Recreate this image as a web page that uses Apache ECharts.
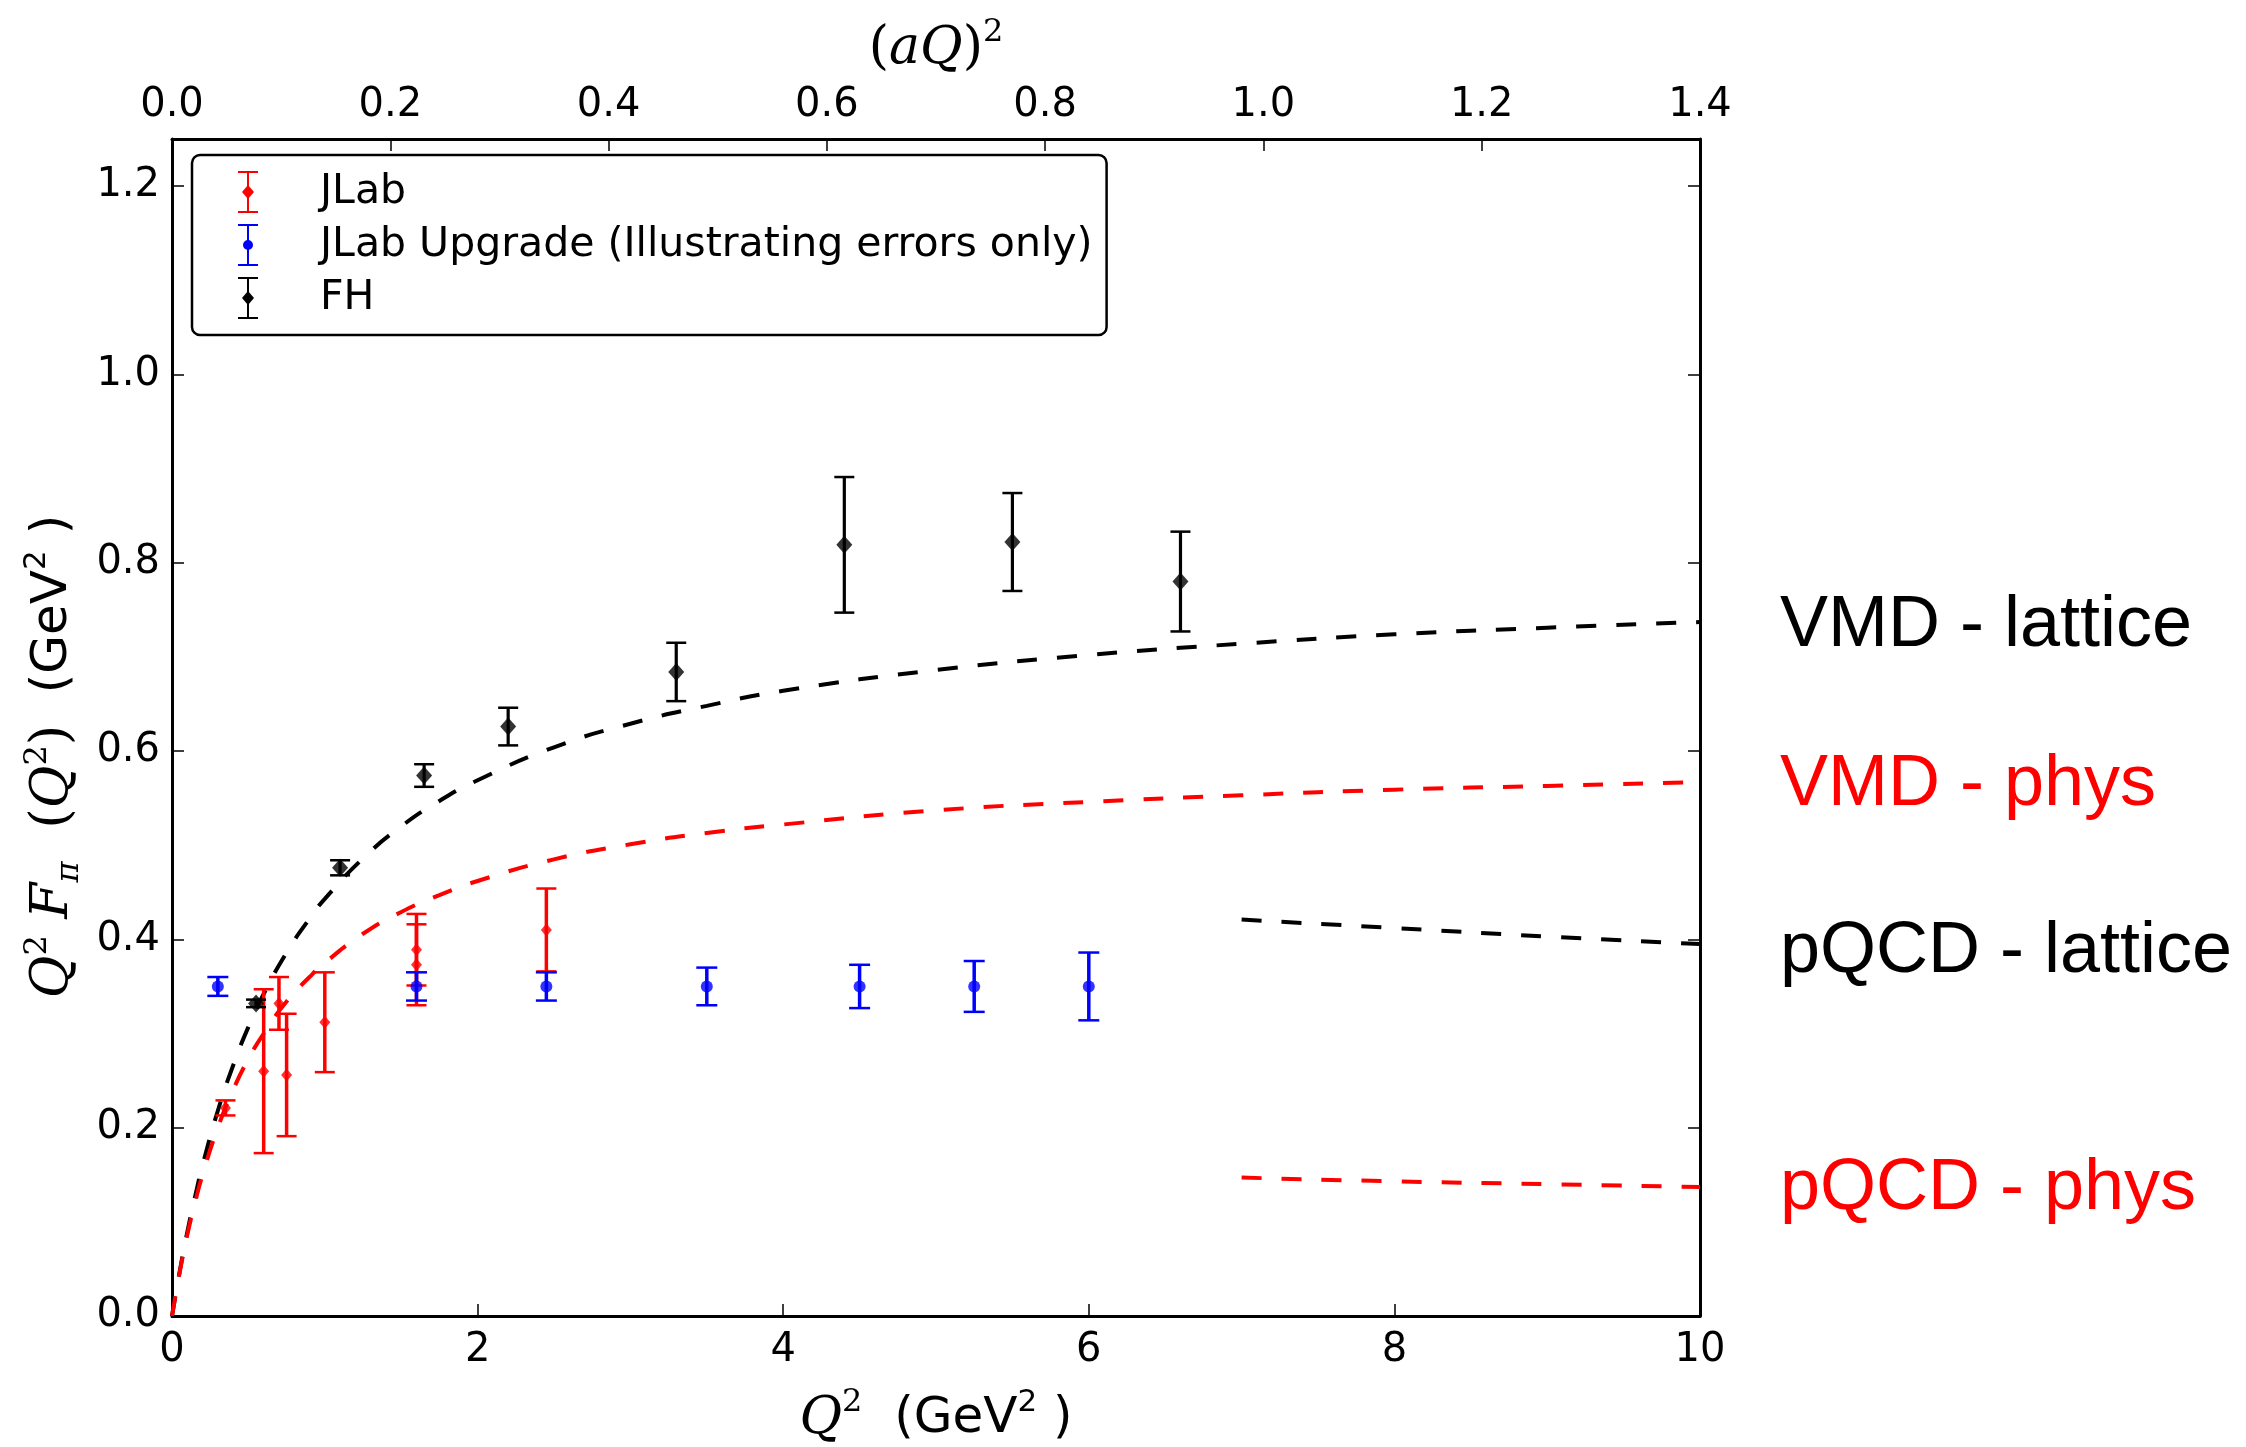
<!DOCTYPE html>
<html>
<head>
<meta charset="utf-8">
<script src="https://cdn.jsdelivr.net/npm/echarts@6/dist/echarts.min.js"></script>
<style>
  html, body { margin: 0; padding: 0; background: #fff; }
  #chart { width: 2246px; height: 1447px; }
</style>
</head>
<body>
<div id="chart"></div>
<script>
// ---------- data ----------
// JLab (red)
const jlabX   = [0.35, 0.60, 0.70, 0.75, 1.00, 1.60, 1.60, 2.45];
const jlabY   = [0.221, 0.260, 0.332, 0.256, 0.312, 0.389, 0.373, 0.410];
const jlabErr = [0.008, 0.087, 0.028, 0.065, 0.053, 0.038, 0.043, 0.044];
// JLab Upgrade (blue)
const upX   = [0.30, 1.60, 2.45, 3.50, 4.50, 5.25, 6.00];
const upY   = [0.350, 0.350, 0.350, 0.350, 0.350, 0.350, 0.350];
const upErr = [0.010, 0.015, 0.015, 0.020, 0.023, 0.027, 0.036];
// FH (black)
const fhX   = [0.55, 1.10, 1.65, 2.20, 3.30, 4.40, 5.50, 6.60];
const fhY   = [0.332, 0.476, 0.574, 0.626, 0.684, 0.819, 0.822, 0.780];
const fhErr = [0.004, 0.008, 0.012, 0.020, 0.031, 0.072, 0.052, 0.053];
// dashed curves
const vmdX     = [0, 0.05, 0.1, 0.15, 0.2, 0.3, 0.4, 0.5, 0.6, 0.75, 0.9, 1.0, 1.25, 1.5, 1.75, 2.0, 2.5, 3.0, 3.5, 4.0, 5.0, 6.0, 7.0, 8.0, 9.0, 10.0];
const vmdLatY  = [0, 0.047, 0.089, 0.126, 0.160, 0.218, 0.266, 0.307, 0.342, 0.386, 0.422, 0.443, 0.486, 0.520, 0.547, 0.569, 0.604, 0.629, 0.648, 0.664, 0.686, 0.702, 0.714, 0.724, 0.731, 0.737];
const vmdPhysY = [0, 0.046, 0.086, 0.120, 0.150, 0.200, 0.240, 0.273, 0.300, 0.334, 0.360, 0.375, 0.406, 0.429, 0.447, 0.462, 0.485, 0.501, 0.513, 0.522, 0.537, 0.546, 0.553, 0.559, 0.563, 0.567];
const pqcdX     = [7, 8, 9, 10];
const pqcdLatY  = [0.421, 0.412, 0.403, 0.395];
const pqcdPhysY = [0.147, 0.143, 0.140, 0.137];
// ticks
const bottomTicks = { min: 0, max: 10, interval: 2 };
const topTicks    = { min: 0, max: 1.4, interval: 0.2 };
const leftTicks   = { min: 0, max: 1.25, interval: 0.2 };
// right-hand annotations (label centre heights in data units of the y axis)
const annLabels = ['VMD - lattice', 'VMD - phys', 'pQCD - lattice', 'pQCD - phys'];
const annColors = ['#000000', '#ff0000', '#000000', '#ff0000'];
const annY      = [0.7325, 0.564, 0.386, 0.135];

// ---------- chart ----------
const chart = echarts.init(document.getElementById('chart'), null, { renderer: 'canvas' });

function pairs(xs, ys) { return xs.map((x, i) => [x, ys[i]]); }
function errData(xs, ys, es) { return xs.map((x, i) => [x, ys[i] - es[i], ys[i] + es[i]]); }

function errRender(color, capW, lw, capLw) {
  return function (params, api) {
    const x = api.value(0), lo = api.value(1), hi = api.value(2);
    const p1 = api.coord([x, lo]);
    const p2 = api.coord([x, hi]);
    const s = { stroke: color, lineWidth: lw };
    const c = { stroke: color, lineWidth: capLw };
    return {
      type: 'group',
      children: [
        { type: 'line', shape: { x1: p1[0], y1: p1[1], x2: p2[0], y2: p2[1] }, style: s },
        { type: 'line', shape: { x1: p1[0] - capW / 2, y1: p1[1], x2: p1[0] + capW / 2, y2: p1[1] }, style: c },
        { type: 'line', shape: { x1: p2[0] - capW / 2, y1: p2[1], x2: p2[0] + capW / 2, y2: p2[1] }, style: c }
      ]
    };
  };
}

const barPath = 'M0,0H20V2H11V40H20V42H0V40H9V2H0Z';
const iconDiamond = 'path://' + barPath + ' M10,14L16,21L10,28L4,21Z';
const iconCircle  = 'path://' + barPath + ' M10,16A5,5 0 1,1 10,26A5,5 0 1,1 10,16Z';

const axisLineStyle = { color: '#000', width: 3 };
const tickStyle = { color: '#000', width: 1.5 };
const labelFont = { fontFamily: 'DejaVu Sans', fontSize: 40, color: '#000' };
const fmt1 = function (v) { return v.toFixed(1); };
const fmtY = function (v) { return Math.abs(v * 5 - Math.round(v * 5)) < 1e-6 ? v.toFixed(1) : ''; };

const serifIt = { fontFamily: 'DejaVu Serif', fontStyle: 'italic', fontSize: 52, lineHeight: 64, color: '#000' };
const serifRm = { fontFamily: 'DejaVu Serif', fontSize: 52, lineHeight: 64, color: '#000' };
const sansRm  = { fontFamily: 'DejaVu Sans', fontSize: 50, lineHeight: 64, color: '#000' };
const supSt   = { fontFamily: 'DejaVu Serif', fontSize: 32, lineHeight: 36, verticalAlign: 'top', color: '#000' };
const supSans = { fontFamily: 'DejaVu Sans', fontSize: 31, lineHeight: 36, verticalAlign: 'top', color: '#000' };
const subSt   = { fontFamily: 'DejaVu Serif', fontStyle: 'italic', fontSize: 32, lineHeight: 32, verticalAlign: 'bottom', color: '#000' };

const dashW = 4, dashPat = [20, 20];

const option = {
  backgroundColor: '#fff',
  animation: false,
  grid: { left: 172, right: 546, top: 139, bottom: 131, containLabel: false, outerBoundsMode: 'none' },
  legend: {
    orient: 'vertical',
    left: 192, top: 155,
    padding: [16, 14, 16, 46],
    itemWidth: 20, itemHeight: 42, itemGap: 11,
    borderColor: '#000', borderWidth: 2.5, borderRadius: 8,
    backgroundColor: '#fff',
    textStyle: { fontFamily: 'DejaVu Sans', fontSize: 41, color: '#000', padding: [0, 0, 0, 57] },
    data: [
      { name: 'JLab', icon: iconDiamond, itemStyle: { color: '#ff0000' } },
      { name: 'JLab Upgrade (Illustrating errors only)', icon: iconCircle, itemStyle: { color: '#0000ff' } },
      { name: 'FH', icon: iconDiamond, itemStyle: { color: '#000000' } }
    ],
    selectedMode: false
  },
  xAxis: [
    {
      type: 'value', position: 'bottom',
      min: bottomTicks.min, max: bottomTicks.max, interval: bottomTicks.interval,
      axisLine: { show: true, onZero: false, lineStyle: axisLineStyle },
      axisTick: { show: true, inside: true, length: 12, lineStyle: tickStyle },
      axisLabel: Object.assign({ margin: 15 }, labelFont),
      splitLine: { show: false },
      name: '{m|Q}{s|2}{n|  (GeV}{t|2}{n| )}',
      nameLocation: 'middle', nameGap: 71,
      nameTextStyle: { rich: { m: serifIt, s: supSt, n: sansRm, t: supSans } }
    },
    {
      type: 'value', position: 'top',
      min: topTicks.min, max: topTicks.max, interval: topTicks.interval,
      axisLine: { show: true, onZero: false, lineStyle: axisLineStyle },
      axisTick: { show: true, inside: true, length: 12, lineStyle: tickStyle },
      axisLabel: Object.assign({ margin: 13, formatter: fmt1 }, labelFont),
      splitLine: { show: false },
      name: '{r|(}{m|aQ}{r|)}{s|2}',
      nameLocation: 'middle', nameGap: 58,
      nameTextStyle: { rich: { m: serifIt, r: serifRm, s: supSt } }
    }
  ],
  yAxis: [
    {
      type: 'value', position: 'left',
      min: leftTicks.min, max: leftTicks.max, interval: leftTicks.interval,
      axisLine: { show: true, onZero: false, lineStyle: axisLineStyle },
      axisTick: { show: true, inside: true, length: 12, lineStyle: tickStyle },
      axisLabel: Object.assign({ margin: 12, formatter: fmtY }, labelFont),
      splitLine: { show: false },
      name: '{m|Q}{s|2}{m| F}{b|π}{r|  (}{m|Q}{s|2}{r|)}{n|  (GeV}{t|2}{n| )}',
      nameLocation: 'middle', nameGap: 86, nameRotate: 90,
      nameTextStyle: { padding: [0, 58, 0, 0], rich: { m: serifIt, r: serifRm, s: supSt, b: subSt, n: sansRm, t: supSans } }
    },
    {
      type: 'value', position: 'right',
      min: leftTicks.min, max: leftTicks.max, interval: leftTicks.interval,
      axisLine: { show: true, onZero: false, lineStyle: axisLineStyle },
      axisTick: { show: true, inside: true, length: 12, lineStyle: tickStyle },
      axisLabel: { show: false },
      splitLine: { show: false }
    }
  ],
  series: [
    { name: 'VMD - lattice', type: 'line', data: pairs(vmdX, vmdLatY), showSymbol: false, smooth: true,
      lineStyle: { color: '#000', width: dashW, type: dashPat }, z: 2, silent: true },
    { name: 'VMD - phys', type: 'line', data: pairs(vmdX, vmdPhysY), showSymbol: false, smooth: true,
      lineStyle: { color: '#ff0000', width: dashW, type: dashPat }, z: 2, silent: true },
    { name: 'pQCD - lattice', type: 'line', data: pairs(pqcdX, pqcdLatY), showSymbol: false, smooth: true,
      lineStyle: { color: '#000', width: dashW, type: dashPat }, z: 2, silent: true },
    { name: 'pQCD - phys', type: 'line', data: pairs(pqcdX, pqcdPhysY), showSymbol: false, smooth: true,
      lineStyle: { color: '#ff0000', width: dashW, type: dashPat }, z: 2, silent: true },

    { name: 'JLab', type: 'custom', data: errData(jlabX, jlabY, jlabErr), renderItem: errRender('#ff0000', 20, 3.5, 2.5),
      itemStyle: { color: '#ff0000' }, encode: { x: 0, y: [1, 2] }, z: 3, silent: true },
    { name: 'JLab', type: 'scatter', data: pairs(jlabX, jlabY), symbol: 'diamond', symbolSize: [11, 13],
      itemStyle: { color: '#ff0000' }, z: 4, silent: true },

    { name: 'JLab Upgrade (Illustrating errors only)', type: 'custom', data: errData(upX, upY, upErr),
      renderItem: errRender('#0000ff', 21, 3.5, 2.5), itemStyle: { color: '#0000ff' }, encode: { x: 0, y: [1, 2] }, z: 3, silent: true },
    { name: 'JLab Upgrade (Illustrating errors only)', type: 'scatter', data: pairs(upX, upY), symbol: 'circle', symbolSize: 12,
      itemStyle: { color: '#0000ff' }, z: 4, silent: true },

    { name: 'FH', type: 'custom', data: errData(fhX, fhY, fhErr), renderItem: errRender('#000000', 20, 3.2, 2.5),
      itemStyle: { color: '#000000' }, encode: { x: 0, y: [1, 2] }, z: 3, silent: true },
    { name: 'FH', type: 'scatter', data: pairs(fhX, fhY), symbol: 'diamond', symbolSize: [16, 18],
      itemStyle: { color: '#000000' }, z: 4, silent: true }
  ]
};

chart.setOption(option);

// right-hand annotations, vertically placed through the y scale
const gfx = annLabels.map(function (t, i) {
  const p = chart.convertToPixel({ xAxisIndex: 0, yAxisIndex: 0 }, [10, annY[i]]);
  return {
    type: 'text', x: 1780, y: p[1],
    style: { text: t, fill: annColors[i], font: '72px "Liberation Sans", Arial, sans-serif', verticalAlign: 'middle', align: 'left' },
    silent: true
  };
});
chart.setOption({ graphic: gfx });
</script>
</body>
</html>
